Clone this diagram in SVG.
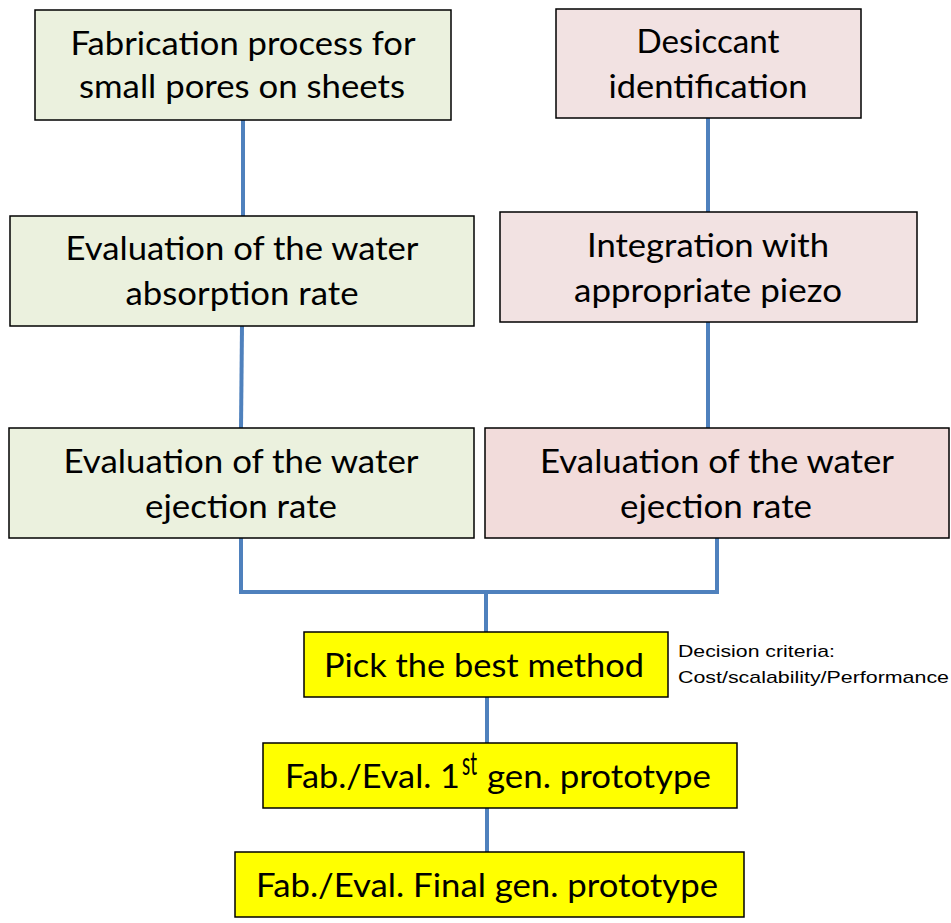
<svg xmlns="http://www.w3.org/2000/svg" width="951" height="923" viewBox="0 0 951 923">
<style>
.box{stroke:#000;stroke-width:1.5}
.g{fill:#EBF1DE}
.p{fill:#F2E2E2}
.p2{fill:#F2DCDB}
.y{fill:#FFFF00}
.t{font-family:Lato,"Open Sans","Liberation Sans",sans-serif;font-size:32px;fill:#000;text-anchor:middle}
.l{text-anchor:start}
.s{font-family:"Liberation Sans",Arial,sans-serif;font-size:17px;fill:#000}
.c{stroke:#4F81BD;stroke-width:4;fill:none}
</style>
<rect width="951" height="923" fill="#fff"/>
<g id="connectors">
<line class="c" x1="243" y1="120" x2="243" y2="216"/>
<line class="c" x1="708" y1="118" x2="708" y2="212"/>
<line class="c" x1="242" y1="326" x2="241" y2="428"/>
<line class="c" x1="708" y1="322" x2="708" y2="428"/>
<polyline class="c" points="241,538 241,592 717,592 717,538"/>
<line class="c" x1="486" y1="592" x2="486" y2="632"/>
<line class="c" x1="487" y1="697" x2="487" y2="743"/>
<line class="c" x1="487" y1="808" x2="487" y2="852"/>
</g>
<g id="n1">
<rect class="box g" x="35" y="10" width="416" height="110"/>
<text class="t" x="243" y="55" textLength="345" lengthAdjust="spacingAndGlyphs">Fabrication process for</text>
<text class="t" x="242" y="98" textLength="326" lengthAdjust="spacingAndGlyphs">small pores on sheets</text>
</g>
<g id="n2">
<rect class="box g" x="10" y="216" width="464" height="110"/>
<text class="t" x="242" y="260" textLength="353" lengthAdjust="spacingAndGlyphs">Evaluation of the water</text>
<text class="t" x="242" y="305" textLength="233" lengthAdjust="spacingAndGlyphs">absorption rate</text>
</g>
<g id="n3">
<rect class="box g" x="9" y="428" width="465" height="110"/>
<text class="t" x="241" y="473" textLength="355" lengthAdjust="spacingAndGlyphs">Evaluation of the water</text>
<text class="t" x="241" y="518" textLength="192" lengthAdjust="spacingAndGlyphs">ejection rate</text>
</g>
<g id="n4">
<rect class="box p" x="556" y="9" width="305" height="109"/>
<text class="t" x="708" y="53" textLength="143" lengthAdjust="spacingAndGlyphs">Desiccant</text>
<text class="t" x="708" y="98" textLength="199" lengthAdjust="spacingAndGlyphs">identification</text>
</g>
<g id="n5">
<rect class="box p" x="500" y="212" width="417" height="110"/>
<text class="t" x="708" y="257" textLength="242" lengthAdjust="spacingAndGlyphs">Integration with</text>
<text class="t" x="708" y="302" textLength="268" lengthAdjust="spacingAndGlyphs">appropriate piezo</text>
</g>
<g id="n6">
<rect class="box p2" x="485" y="428" width="464" height="110"/>
<text class="t" x="717" y="473" textLength="354" lengthAdjust="spacingAndGlyphs">Evaluation of the water</text>
<text class="t" x="716" y="518" textLength="192" lengthAdjust="spacingAndGlyphs">ejection rate</text>
</g>
<g id="n7">
<rect class="box y" x="304" y="632" width="364" height="65"/>
<text class="t" x="484" y="677" textLength="320" lengthAdjust="spacingAndGlyphs">Pick the best method</text>
</g>
<g id="note">
<text class="s" x="678" y="657" textLength="157" lengthAdjust="spacingAndGlyphs">Decision criteria:</text>
<text class="s" x="678" y="683" textLength="271" lengthAdjust="spacingAndGlyphs">Cost/scalability/Performance</text>
</g>
<g id="n8">
<rect class="box y" x="263" y="743" width="474" height="65"/>
<text class="t l" x="285" y="788" textLength="175" lengthAdjust="spacingAndGlyphs">Fab./Eval. 1</text>
<text class="t l" x="462" y="775" font-size="19" textLength="15" lengthAdjust="spacingAndGlyphs">st</text>
<text class="t l" x="487" y="788" textLength="224" lengthAdjust="spacingAndGlyphs">gen. prototype</text>
</g>
<g id="n9">
<rect class="box y" x="235" y="852" width="509" height="65"/>
<text class="t" x="487" y="897" textLength="462" lengthAdjust="spacingAndGlyphs">Fab./Eval. Final gen. prototype</text>
</g>
</svg>
